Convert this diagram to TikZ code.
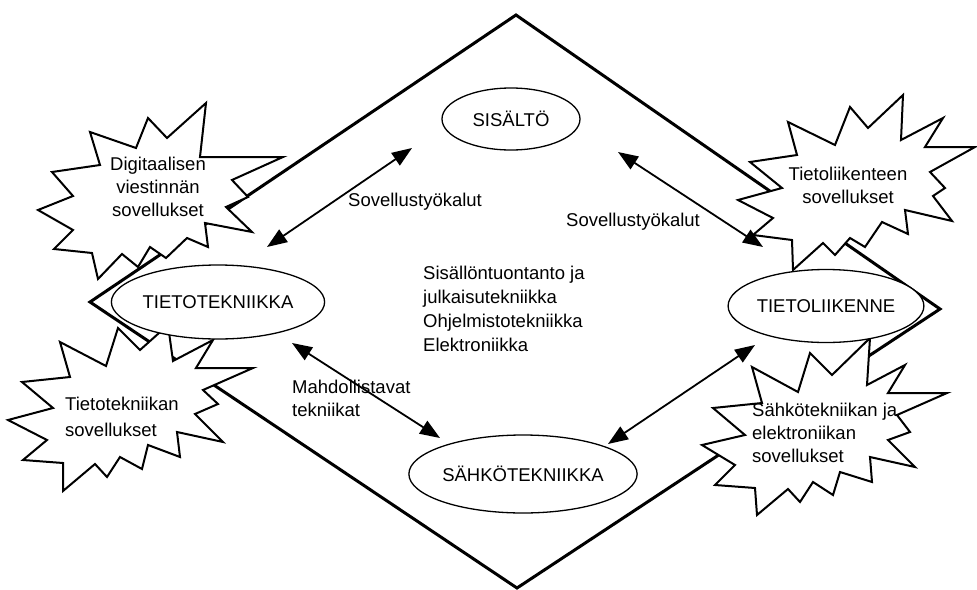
\documentclass[tikz,border=0pt]{standalone}
\usepackage{fontspec}
\setmainfont{Liberation Sans}
\usetikzlibrary{arrows.meta,shapes.geometric}
\begin{document}
\begin{tikzpicture}[x=1pt,y=-1pt,
  diam/.style={line width=3pt, line join=miter},
  burst/.style={draw, line width=2pt, fill=white, line join=miter},
  oval/.style={ellipse, draw, line width=1.3pt, fill=white, inner sep=0pt, font=\fontsize{18.5}{22}\selectfont},
  link/.style={line width=1.8pt, {Triangle[length=20pt,width=15pt]}-{Triangle[length=20pt,width=15pt]}},
  lbl/.style={inner sep=0pt, font=\fontsize{18.5}{23}\selectfont, align=left},
]
\useasboundingbox (0,0) rectangle (977,589);

% big diamond
\coordinate (dt) at (516,15);
\coordinate (dr) at (940,309);
\coordinate (db) at (517,588);
\coordinate (dl) at (90,302);
\draw[diam] (dt) -- (dr) -- (db) -- (dl) -- cycle;

% starburst: Digitaalisen viestinnan sovellukset
\draw[burst] (206,103) -- (200,157) -- (283,157) -- (232,180) -- (248,197) -- (226,207)
  -- (252,232) -- (205,223) -- (208,247) -- (187,238) -- (166,258) -- (150,247)
  -- (138,267) -- (122,254) -- (98,279) -- (92,253) -- (54,249) -- (73,230)
  -- (38,210) -- (73,196) -- (52,172) -- (100,165) -- (90,132) -- (136,148)
  -- (148,118) -- (167,138) -- cycle;

% starburst: Tietotekniikan sovellukset
\draw[burst] (118,328) -- (106,366) -- (60,342) -- (70,377) -- (22,382) -- (53,408)
  -- (8,420) -- (47,440) -- (23,460) -- (63,463) -- (63,491) -- (95,464)
  -- (107,477) -- (120,457) -- (142,469) -- (148,445) -- (180,457) -- (177,432)
  -- (223,442) -- (195,414) -- (218,404) -- (203,390) -- (253,368) -- (196,368)
  -- (213,340) -- (173,361) -- (168,325) -- (140,350) -- cycle;

% starburst: Tietoliikenteen sovellukset
\draw[burst] (903,95) -- (901,140) -- (943,118) -- (925,147) -- (975,147) -- (930,172)
  -- (945,188) -- (933,196) -- (952,221) -- (905,210) -- (908,234) -- (882,222)
  -- (865,247) -- (850,238) -- (835,255) -- (823,243) -- (793,270) -- (792,240)
  -- (753,235) -- (773,218) -- (738,200) -- (782,188) -- (750,162) -- (797,155)
  -- (788,122) -- (835,145) -- (850,107) -- (868,128) -- cycle;

% starburst: Sahkotekniikan ja elektroniikan sovellukset
\draw[burst] (870,338) -- (867,385) -- (905,365) -- (888,393) -- (947,393) -- (897,415)
  -- (910,432) -- (888,440) -- (915,467) -- (870,457) -- (872,482) -- (840,472)
  -- (833,495) -- (813,482) -- (800,502) -- (788,489) -- (757,515) -- (755,488)
  -- (715,485) -- (735,465) -- (702,445) -- (745,435) -- (713,408) -- (762,403)
  -- (752,367) -- (798,392) -- (810,353) -- (832,375) -- cycle;

% ellipses
\node[oval, minimum width=138pt, minimum height=62pt] (sis) at (511,119) {SISÄLTÖ};
\node[oval, minimum width=180pt, minimum height=74pt] (tt) at (218,302) {TIETOTEKNIIKKA};
\node[oval, minimum width=181pt, minimum height=73pt] (tl) at (826,306) {TIETOLIIKENNE};
\node[oval, minimum width=180pt, minimum height=78pt] (sa) at (523,474) {SÄHKÖTEKNIIKKA};

% arrow end points
\coordinate (a1s) at (267,247);
\coordinate (a1e) at (412,148);
\coordinate (a2s) at (618,152);
\coordinate (a2e) at (763,247);
\coordinate (a3s) at (292,343);
\coordinate (a3e) at (440,438);
\coordinate (a4s) at (608,444);
\coordinate (a4e) at (755,345);
\draw[link] (a1s) -- (a1e);
\draw[link] (a2s) -- (a2e);
\draw[link] (a3s) -- (a3e);
\draw[link] (a4s) -- (a4e);

% labels
\node[lbl, anchor=west] (l1) at (348,202) {Sovellustyökalut};
\node[lbl, anchor=west] (l2) at (566,222) {Sovellustyökalut};
\node[lbl, anchor=west, font=\fontsize{18.5}{24}\selectfont] (l3) at (423,309)
  {Sisällöntuontanto ja\\julkaisutekniikka\\Ohjelmistotekniikka\\Elektroniikka};
\node[lbl, anchor=west] (l4) at (292,398) {Mahdollistavat\\tekniikat};
\node[lbl, align=center] (b1) at (158,187) {Digitaalisen\\viestinnän\\sovellukset};
\node[lbl, anchor=west, font=\fontsize{18.5}{26}\selectfont] (b2) at (65,417) {Tietotekniikan\\sovellukset};
\node[lbl, align=center] (b3) at (848,185) {Tietoliikenteen\\sovellukset};
\node[lbl, anchor=west] (b4) at (752,433) {Sähkötekniikan ja\\elektroniikan\\sovellukset};
\end{tikzpicture}
\end{document}
